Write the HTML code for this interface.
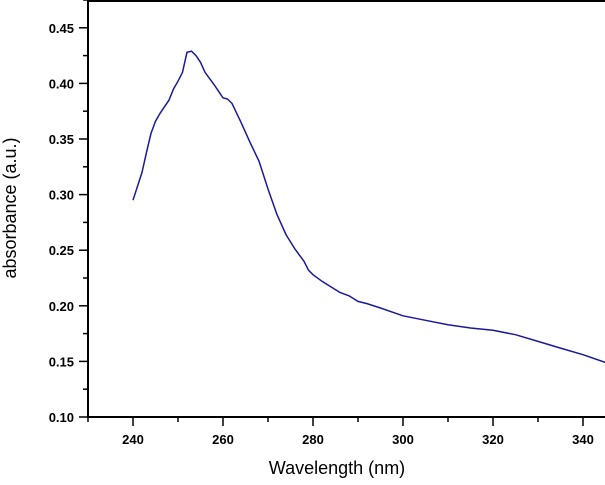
<!DOCTYPE html>
<html><head><style>
body{margin:0;background:#fff;width:605px;height:480px;overflow:hidden}
text{font-family:"Liberation Sans",Arial,sans-serif}
</style></head><body>
<svg id="s" width="605" height="480" xmlns="http://www.w3.org/2000/svg">
<g stroke="#000" stroke-width="2" fill="none">
<line x1="88" y1="0" x2="88" y2="418"/>
<line x1="87" y1="417" x2="605" y2="417"/>
<line x1="88" y1="1" x2="605" y2="1"/>
</g>
<g id="ticks" stroke="#000" stroke-width="1.5"></g>
<g id="lab" font-size="13" font-weight="bold" fill="#000"></g>
<path id="p" fill="none" stroke="#1a1a9a" stroke-width="1.5"/>
<text x="337" y="474" font-size="18" text-anchor="middle">Wavelength (nm)</text>
<text transform="translate(16,208) rotate(-90)" font-size="18" text-anchor="middle">absorbance (a.u.)</text>
</svg>
<script>
function X(w){return 88+(w-230)*4.5}
function Y(a){return 417-(a-0.10)*1112}
var t='',l='';
for(var a=0.10;a<0.476;a+=0.025){var y=Y(a);var maj=Math.round(a*1000)%50==0;
t+='<line x1="'+(maj?79:83)+'" y1="'+y+'" x2="88" y2="'+y+'"/>';
if(maj)l+='<text x="74" y="'+(y+5)+'" text-anchor="end">'+a.toFixed(2)+'</text>';}
for(var w=230;w<=345;w+=10){var x=X(w);var maj=w%20==0;
t+='<line x1="'+x+'" y1="417" x2="'+x+'" y2="'+(maj?426:422)+'"/>';
if(maj)l+='<text x="'+x+'" y="444" text-anchor="middle">'+w+'</text>';}
document.getElementById('ticks').innerHTML=t;document.getElementById('lab').innerHTML=l;
var d=[[240,.295],[242,.32],[243,.338],[244,.355],[245,.366],[246,.373],[248,.385],[249,.395],[250,.402],[251,.41],[252,.428],[253,.429],[254,.425],[255,.419],[256,.41],[258,.399],[259,.393],[260,.387],[261,.386],[262,.382],[264,.365],[266,.347],[268,.33],[270,.305],[272,.282],[274,.264],[276,.251],[278,.24],[279,.232],[280,.228],[282,.222],[284,.217],[286,.212],[288,.209],[290,.204],[292,.202],[295,.198],[300,.191],[305,.187],[310,.183],[315,.180],[320,.178],[325,.174],[330,.168],[335,.162],[340,.156],[345,.149]];
var s='';d.forEach(function(p,i){s+=(i?'L':'M')+X(p[0]).toFixed(1)+' '+Y(p[1]).toFixed(1)});
document.getElementById('p').setAttribute('d',s);
</script>
</body></html>
